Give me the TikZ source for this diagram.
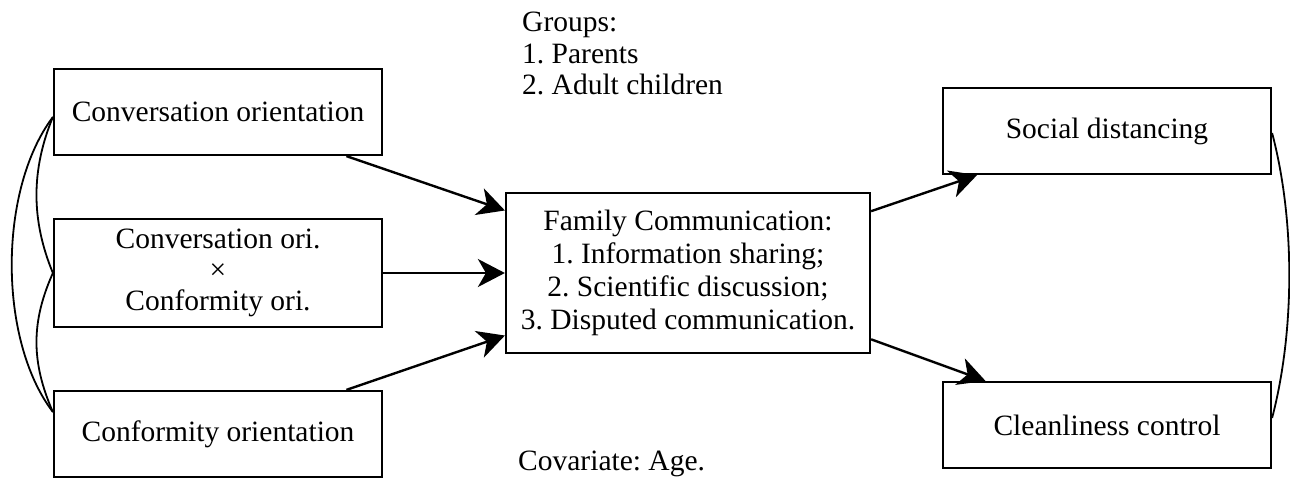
\documentclass[tikz,border=0pt]{standalone}
\usepackage{fontspec}
\setmainfont{Liberation Serif}
\usetikzlibrary{arrows.meta,calc}
\begin{document}
\frenchspacing
\begin{tikzpicture}[x=1pt,y=-1pt,
  box/.style={draw, line width=2.2pt, minimum width=328pt, minimum height=86pt, inner sep=0pt, align=center,
    font=\fontsize{29.5}{33}\selectfont},
  arr/.style={line width=2.4pt, -{Stealth[length=27pt,width=28pt,inset=8pt]}},
  cov/.style={line width=1.8pt},
  lbl/.style={inner sep=0pt, align=left, font=\fontsize{29.5}{31.5}\selectfont}]
\useasboundingbox (0,0) rectangle (1290,478);
\node[box] (b1) at (218,112) {Conversation orientation};
\node[box, minimum height=108pt] (b2) at (218,273) {Conversation ori.\\[-2pt]×\\[-2pt]Conformity ori.};
\node[box] (b3) at (218,434) {Conformity orientation};
\node[box, minimum width=364pt, minimum height=160pt] (c) at (688,273)
  {Family Communication:\\1. Information sharing;\\2. Scientific discussion;\\3. Disputed communication.};
\node[box] (s) at (1107,131) {Social distancing};
\node[box] (k) at (1107,425) {Cleanliness control};
\node[lbl, anchor=north west] (g) at (522,12) {Groups:\\1. Parents\\2. Adult children};
\node[lbl, anchor=base west] (cv) at (518,470) {Covariate: Age.};
\draw[arr] (b1) -- (c);
\draw[arr] (b2) -- (c);
\draw[arr] (b3) -- (c);
\draw[arr] (c) -- (s);
\draw[arr] (c) -- (k);
\coordinate (l1) at ($(b1.west)+(0,5)$);
\coordinate (l2) at (b2.west);
\coordinate (l3) at ($(b3.west)+(0,-22)$);
\coordinate (r1) at ($(s.east)+(0,2)$);
\coordinate (r2) at ($(k.east)+(0,-7)$);
\draw[cov] (l1) .. controls (-2,190) and (-2,340) .. (l3);
\draw[cov] (l1) .. controls (31,170) and (31,220) .. (l2);
\draw[cov] (l2) .. controls (31,322) and (31,362) .. (l3);
\draw[cov] (r1) .. controls (1295,220) and (1295,330) .. (r2);
\end{tikzpicture}
\end{document}
